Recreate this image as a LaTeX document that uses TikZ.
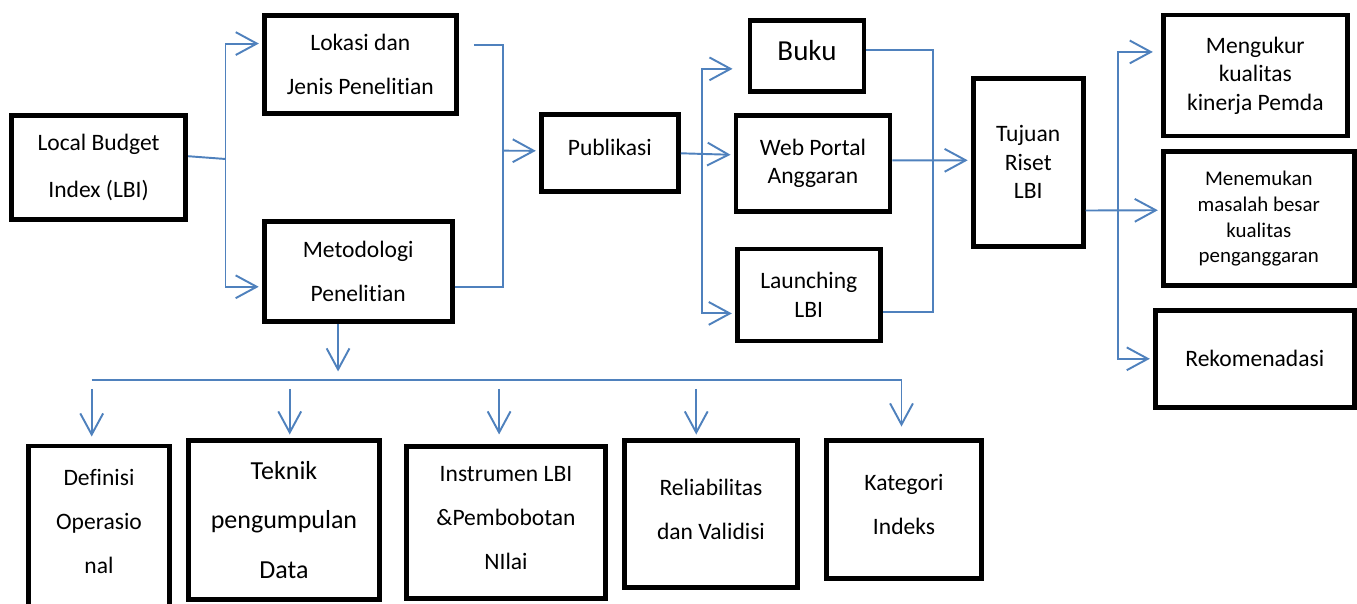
\documentclass[tikz,border=0pt]{standalone}
\usepackage{fontspec}
\setmainfont[Ligatures=NoCommon]{Carlito}
\usetikzlibrary{arrows.meta}
\definecolor{lbiblue}{HTML}{4F81BD}

\begin{document}
\begin{tikzpicture}[x=0.02cm,y=-0.02cm,% one unit = one pixel of the original figure
        blok/.style={draw,line width=2.8pt,align=center,inner sep=0pt},%thick black boxes
        dims/.style 2 args={minimum width=#1*0.02cm,minimum height=#2*0.02cm},
        narrowlines/.style={font=\fontsize{13.4}{16.2}\selectfont},
        widelines/.style={font=\fontsize{13.4}{25}\selectfont},
        link/.style={draw=lbiblue,line width=1.1pt},
        arr/.style={link,-{Straight Barb[length=12pt,width=13pt]},shorten >=0.06cm}]
\useasboundingbox (0,0) rectangle (1357,604);

% upper row
\node[blok,widelines,dims={174}{104}] (lbi) at (98.6,167.2) {Local Budget\\[2pt] Index (LBI)};
\node[blok,widelines,dims={192}{98}] (lokasi) at (360.3,64.5) {Lokasi dan\\Jenis Penelitian};
\node[blok,widelines,dims={188}{100}] (metod) at (358.2,271.5) {Metodologi\\Penelitian};
\node[blok,narrowlines,dims={137}{77},text depth=0.24cm] (publ) at (609.8,153.3) {Publikasi};
\node[blok,font=\fontsize{16.5}{20}\selectfont,dims={114}{71},text depth=0.24cm] (buku) at (807,56.2) {Buku};
\node[blok,narrowlines,dims={154}{96}] (web) at (813,163.2) {Web Portal\\Anggaran};
\node[blok,narrowlines,dims={143}{92}] (launch) at (808.8,295) {Launching\\LBI};
\node[blok,narrowlines,dims={110}{168}] (tujuan) at (1028.2,162.3) {Tujuan\\Riset\\LBI};
\node[blok,narrowlines,dims={184}{121}] (ukur) at (1255.3,75.5) {Mengukur\\kualitas\\kinerja Pemda};
\node[blok,font=\fontsize{11.9}{14.7}\selectfont,dims={191}{134}] (temu) at (1258.8,218.8) {Menemukan\\masalah besar\\kualitas\\penganggaran};
\node[blok,narrowlines,dims={199}{97}] (rekom) at (1254.8,358.8) {Rekomenadasi};

% lower row (parts of methodology)
\node[blok,widelines,dims={141}{162},text depth=0.22cm] (defin) at (99,527) {Definisi\\Operasio\\nal};
\node[blok,font=\fontsize{14.8}{28.1}\selectfont,dims={191}{159}] (teknik) at (284,520) {Teknik\\pengumpulan\\Data};
\node[blok,widelines,dims={199}{152.5},text depth=0.18cm] (instr) at (506,522.7) {Instrumen LBI\\\&Pembobotan\\NIlai};
\node[blok,widelines,dims={173}{147},text depth=0.2cm] (relia) at (711,514) {Reliabilitas\\dan Validisi};
\node[blok,widelines,dims={155}{138},text depth=0.22cm] (kateg) at (904,509.5) {Kategori\\Indeks};

% LBI -> Lokasi / Metodologi
\coordinate (j1) at (225.5,159);
\draw[link] (lbi.7) -- (j1);
\draw[arr] (j1) |- (lokasi.168);
\draw[arr] (j1) |- (metod.189);

% both -> Publikasi
\coordinate (j2) at (502.7,150.7);
\draw[link,shorten <=0.3cm] (lokasi.11) -| (j2);
\draw[link] (metod.-9) -| (j2);
\draw[arr] (j2) -- (publ.178);

% Publikasi -> Buku / Web / Launching
\coordinate (j3) at (701.7,154.7);
\draw[arr] (publ.east) -- (web.174);
\draw[arr,shorten >=0.3cm] (j3) |- (buku.192);
\draw[arr] (j3) |- (launch.194);

% outputs -> Tujuan
\coordinate (j4) at (933,160.7);
\draw[arr] (web.2) -- (tujuan.178);
\draw[link] (buku.6) -| (j4) |- (launch.-13);

% Tujuan -> three aims
\coordinate (j5) at (1117.7,209.3);
\draw[arr] (tujuan.-40) -- (temu.175);
\draw[arr,shorten >=0.16cm] (j5) |- (ukur.166);
\draw[arr] (j5) |- (rekom.west);

% Metodologi -> lower row
\coordinate (bar) at (339,380);
\coordinate (tops) at (0,389);
\draw[arr,shorten >=0.17cm] (metod.249) -- (metod.249 |- bar);
\draw[arr,shorten >=0.23cm] (defin.95 |- bar) -| (kateg.92);
\foreach \nm/\ang/\gap in {defin/95/0.14cm,teknik/86/0.07cm,instr/95/0.19cm,relia/101/0.07cm}{ %box/anchor angle/gap above the box
  \draw[arr,shorten >=\gap] (\nm.\ang |- tops) -- (\nm.\ang);
}

\end{tikzpicture}
\end{document}
